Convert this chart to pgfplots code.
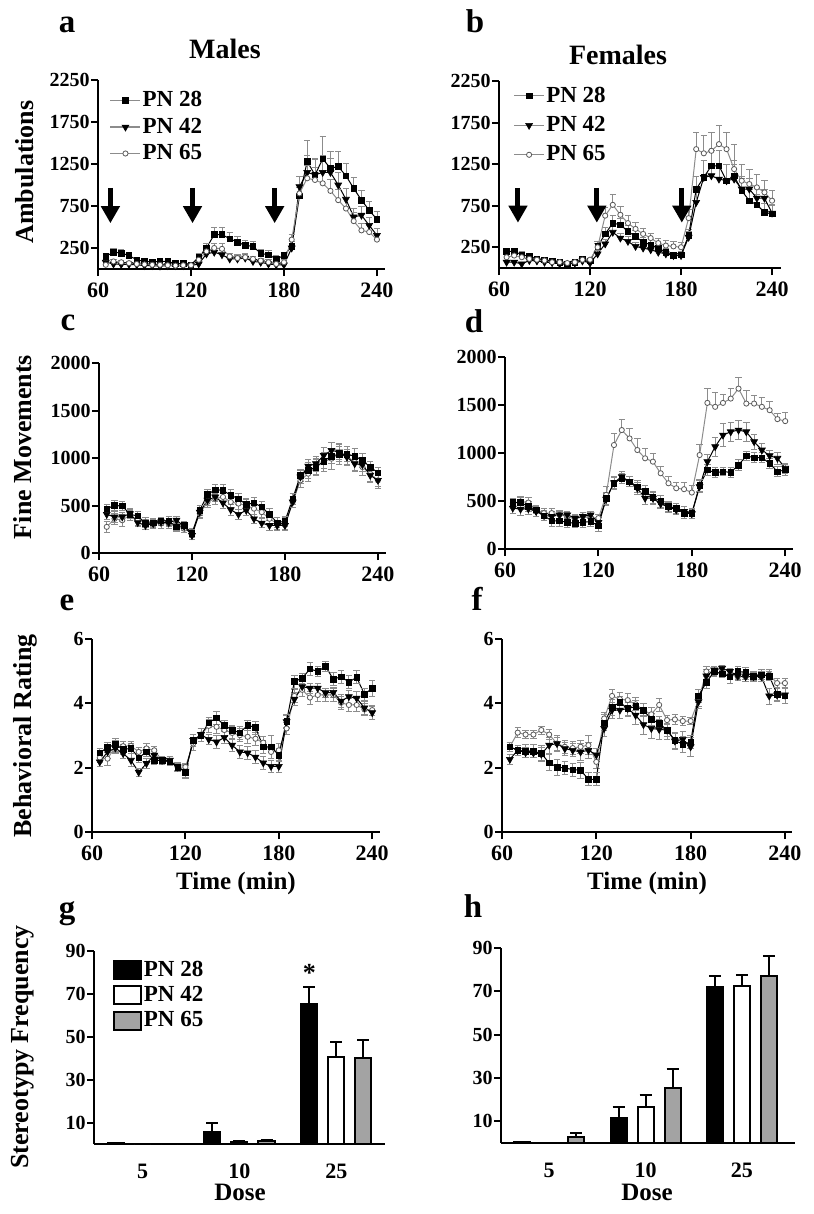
\documentclass[border=0pt]{standalone}
\usepackage{pgfplots}
\pgfplotsset{compat=1.18}
\usepackage{pgfplotstable}
\usepackage{fontspec}
\setmainfont{Liberation Serif}
\usetikzlibrary{arrows.meta}

\definecolor{errgray}{gray}{0.55}
\definecolor{lingray}{gray}{0.55}
\definecolor{bargray}{gray}{0.64}

% ---- time courses: mean and SEM per age group ----
\pgfplotstableread{
t a28 e28 a42 e42 a65 e65
65 150 40 80 30 50 20
70 200 40 60 20 90 20
75 190 40 55 20 80 20
80 160 30 55 20 70 20
85 110 30 50 20 60 20
90 90 30 40 20 55 20
95 85 30 40 20 50 20
100 90 30 35 20 50 20
105 90 30 40 20 45 20
110 65 20 40 20 40 20
115 65 20 40 20 45 20
120 50 20 40 20 45 20
125 140 40 60 30 110 30
130 250 60 180 40 210 50
135 410 80 200 50 250 60
140 410 90 170 50 240 60
145 360 80 120 40 150 40
150 320 70 120 40 130 40
155 280 60 130 40 140 40
160 270 60 90 30 120 30
165 185 50 80 30 100 30
170 170 50 60 30 80 30
175 120 40 50 30 60 20
180 160 40 50 30 80 30
185 270 60 250 60 350 60
190 870 100 980 120 900 100
195 1280 250 1150 200 1080 150
200 1120 200 1120 180 1060 150
205 1310 270 1150 200 1020 150
210 1200 200 1150 170 930 140
215 1220 180 1000 150 820 130
220 1110 150 830 130 720 120
225 960 130 620 100 570 100
230 820 110 640 100 460 80
235 700 100 520 90 440 80
240 590 90 400 80 350 70
}\tA

\pgfplotstableread{
t a28 e28 a42 e42 a65 e65
65 200 40 70 20 130 30
70 200 40 70 20 150 30
75 160 40 50 20 130 30
80 140 30 90 20 110 30
85 110 30 85 20 100 30
90 100 30 70 20 90 20
95 85 20 65 20 70 20
100 70 20 50 20 70 20
105 50 20 45 20 60 20
110 70 20 60 20 70 20
115 110 30 85 20 100 20
120 85 30 60 20 100 20
125 260 60 170 40 250 50
130 410 80 290 60 630 100
135 540 90 430 70 760 120
140 520 80 360 60 640 100
145 440 70 320 60 540 90
150 380 70 260 50 470 80
155 310 60 240 50 410 70
160 280 60 220 50 360 60
165 240 50 190 40 300 60
170 190 50 170 40 270 60
175 150 40 150 40 260 60
180 160 40 150 40 250 60
185 390 80 370 70 600 100
190 950 150 790 120 1430 200
195 1090 200 1090 200 1380 220
200 1230 180 1110 150 1410 220
205 1230 180 1070 150 1490 220
210 1050 200 1050 200 1430 200
215 1110 180 1070 180 1190 300
220 930 150 950 150 1050 200
225 810 130 950 130 1010 180
230 760 120 840 120 970 160
235 670 110 840 110 910 150
240 650 100 660 100 810 120
}\tB

\pgfplotstableread{
t a28 e28 a42 e42 a65 e65
65 467 40 407 50 275 60
70 500 50 380 60 360 60
75 495 50 380 50 345 60
80 407 40 415 50 400 60
85 390 50 320 40 345 50
90 310 40 290 40 326 50
95 320 40 310 40 310 50
100 337 40 326 40 310 50
105 337 50 320 40 310 50
110 275 40 345 40 275 50
115 290 40 280 40 255 40
120 205 40 185 40 220 40
125 450 50 430 50 415 50
130 615 50 555 50 537 60
135 667 50 590 50 572 60
140 660 60 527 60 590 60
145 607 60 456 60 537 60
150 572 60 407 50 520 60
155 510 60 450 50 500 60
160 527 60 360 50 467 60
165 485 60 315 50 430 60
170 405 60 290 50 360 60
175 320 50 290 50 310 60
180 335 50 290 50 310 60
185 572 60 537 60 537 60
190 818 60 800 70 765 70
195 870 80 915 70 835 80
200 905 80 940 80 905 90
205 968 80 1028 80 958 100
210 1020 80 1080 80 993 110
215 1040 80 1063 80 1045 110
220 1040 80 1010 80 1018 100
225 1020 80 940 80 958 90
230 975 70 930 70 905 90
235 905 60 818 70 835 80
240 845 60 765 60 765 80
}\tC

\pgfplotstableread{
t a28 e28 a42 e42 a65 e65
65 484 40 426 50 477 40
70 484 50 415 60 495 50
75 443 50 419 60 484 50
80 408 40 391 50 408 50
85 346 50 350 50 374 50
90 294 60 339 50 374 50
95 294 60 356 50 356 40
100 277 50 356 40 339 40
105 270 50 322 40 311 40
110 277 50 339 40 339 40
115 287 50 356 40 322 40
120 242 60 277 50 322 40
125 529 60 519 60 564 90
130 685 60 692 60 1083 120
135 737 50 754 50 1239 110
140 702 50 702 50 1152 100
145 650 60 633 60 1031 120
150 599 60 529 60 945 100
155 540 60 529 60 910 90
160 495 60 471 50 789 70
165 443 50 436 50 685 70
170 426 50 408 50 633 60
175 367 50 391 50 623 70
180 374 50 367 50 588 70
185 661 60 650 60 979 110
190 824 60 910 80 1522 150
195 796 50 1066 100 1481 150
200 806 40 1187 120 1522 90
205 799 50 1221 100 1567 110
210 875 60 1239 100 1671 120
215 969 50 1221 100 1515 140
220 952 50 1118 80 1515 80
225 952 50 1031 70 1481 100
230 893 50 972 60 1446 90
235 806 50 945 60 1353 60
240 824 60 841 50 1332 90
}\tD

\pgfplotstableread{
t a28 e28 a42 e42 a65 e65
65 2.46 0.15 2.18 0.15 2.31 0.15
70 2.63 0.15 2.49 0.2 2.28 0.2
75 2.72 0.2 2.61 0.15 2.65 0.2
80 2.57 0.15 2.44 0.15 2.67 0.15
85 2.60 0.15 2.23 0.2 2.68 0.15
90 2.31 0.15 1.86 0.12 2.49 0.15
95 2.49 0.15 2.13 0.15 2.60 0.15
100 2.23 0.12 2.39 0.12 2.54 0.12
105 2.23 0.12 2.23 0.12 2.23 0.12
110 2.18 0.12 2.23 0.12 2.18 0.12
115 2.02 0.15 2.02 0.15 2.02 0.12
120 1.86 0.2 1.89 0.2 2.02 0.12
125 2.85 0.2 2.85 0.2 2.75 0.2
130 3.01 0.2 3.03 0.2 3.03 0.2
135 3.40 0.15 2.88 0.15 3.30 0.2
140 3.55 0.2 2.80 0.2 3.27 0.2
145 3.32 0.15 2.94 0.2 3.17 0.2
150 3.17 0.15 2.70 0.2 3.08 0.2
155 3.09 0.2 2.49 0.2 3.01 0.2
160 3.32 0.15 2.46 0.2 2.96 0.2
165 3.25 0.2 2.33 0.2 2.90 0.2
170 2.65 0.2 2.15 0.2 2.78 0.2
175 2.65 0.35 2.04 0.2 2.49 0.2
180 2.39 0.2 2.04 0.2 2.54 0.2
185 3.45 0.2 3.43 0.2 3.22 0.2
190 4.68 0.2 4.13 0.2 4.23 0.2
195 4.78 0.15 4.52 0.15 4.42 0.2
200 5.07 0.2 4.47 0.15 4.18 0.2
205 4.99 0.15 4.47 0.15 4.26 0.2
210 5.15 0.15 4.33 0.15 4.26 0.2
215 4.75 0.2 4.34 0.15 4.26 0.2
220 4.83 0.2 4.07 0.2 4.02 0.2
225 4.66 0.2 4.21 0.2 3.95 0.2
230 4.81 0.2 4.16 0.2 3.95 0.2
235 4.28 0.2 3.86 0.2 3.81 0.2
240 4.47 0.25 3.71 0.2 3.79 0.15
}\tE

\pgfplotstableread{
t a28 e28 a42 e42 a65 e65
65 2.65 0.15 2.26 0.15 2.65 0.15
70 2.54 0.15 2.54 0.15 3.09 0.15
75 2.51 0.2 2.47 0.15 3.03 0.12
80 2.51 0.2 2.46 0.15 3.03 0.12
85 2.44 0.25 2.42 0.2 3.17 0.12
90 2.15 0.25 2.70 0.25 3.03 0.15
95 2.02 0.25 2.75 0.25 2.75 0.2
100 1.99 0.2 2.59 0.2 2.65 0.2
105 1.94 0.2 2.54 0.2 2.61 0.2
110 1.92 0.25 2.49 0.25 2.65 0.2
115 1.64 0.2 2.54 0.25 2.70 0.3
120 1.64 0.2 2.40 0.2 2.18 0.2
125 3.40 0.25 3.22 0.25 3.53 0.2
130 3.88 0.25 3.79 0.25 4.23 0.2
135 4.03 0.2 3.79 0.25 4.13 0.2
140 3.84 0.2 3.84 0.25 4.10 0.2
145 3.90 0.2 3.63 0.3 3.97 0.2
150 3.79 0.2 3.34 0.3 3.79 0.2
155 3.50 0.2 3.22 0.3 3.66 0.2
160 3.38 0.2 3.19 0.3 3.95 0.2
165 3.17 0.2 3.17 0.3 3.48 0.15
170 2.85 0.25 2.83 0.25 3.50 0.15
175 2.73 0.25 2.88 0.25 3.45 0.15
180 2.80 0.2 2.65 0.3 3.45 0.12
185 4.23 0.2 4.05 0.2 4.10 0.2
190 4.65 0.2 4.85 0.2 4.99 0.15
195 4.99 0.15 5.04 0.1 4.96 0.1
200 4.92 0.1 5.09 0.1 4.92 0.1
205 4.83 0.2 4.99 0.1 4.89 0.1
210 4.99 0.15 4.85 0.15 4.83 0.1
215 4.96 0.15 4.83 0.15 4.83 0.1
220 4.85 0.15 4.83 0.15 4.85 0.1
225 4.89 0.15 4.83 0.15 4.83 0.1
230 4.85 0.15 4.23 0.25 4.89 0.15
235 4.29 0.2 4.26 0.2 4.63 0.15
240 4.24 0.25 4.26 0.25 4.63 0.15
}\tF

% ---- stereotypy by dose (0 = 5, 1 = 10, 2 = 25) ----
\pgfplotstableread{
x p28 e28 p42 e42 p65 e65
0 0.5 0 0 0 0 0
1 5.5 4.2 1.0 0.4 1.3 0.4
2 65.5 7.5 40.5 7 40.3 8.4
}\tG

\pgfplotstableread{
x p28 e28 p42 e42 p65 e65
0 0.5 0 0 0 2.8 1.8
1 11.6 4.9 16.5 5.7 25.2 8.9
2 71.9 5.3 72.6 5.1 76.9 9.5
}\tH

\tikzset{arr/.style={line width=2.5pt, -{Triangle[width=9pt,length=8.5pt]}}}

\pgfplotsset{
  panel/.style={
    scale only axis,
    axis lines*=left,
    axis line style={-, line width=1pt},
    tick align=outside,
    major tick length=3.5pt,
    tick style={black, line width=1pt},
    xticklabel style={font=\bfseries\fontsize{11}{11}\selectfont},
    yticklabel style={font=\bfseries\fontsize{10}{10}\selectfont, inner sep=0.5pt},
    /pgf/number format/assume math mode=true,
    /pgf/number format/1000 sep={},
    scaled ticks=false,
    clip=false,
  },
  time/.style={panel, xmin=60, xtick={60,120,180,240}, ymin=0},
  eb/.style={
    /pgfplots/error bars/y dir=#1,
    /pgfplots/error bars/y explicit,
    /pgfplots/error bars/error bar style={errgray, line width=0.4pt},
    /pgfplots/error bars/error mark options={rotate=90, errgray, mark size=1.6pt, line width=0.4pt},
  },
  s28/.style={black, line width=0.5pt, mark=square*, mark size=1.4pt,
    mark options={black, line width=0.3pt}},
  s42/.style={black, line width=0.5pt, mark=triangle*, mark size=2pt,
    mark options={black, rotate=180, line width=0.3pt}},
  s65/.style={lingray, line width=0.5pt, mark=*, mark size=1.3pt,
    mark options={draw=black!65, fill=white, line width=0.4pt}},
  lineleg/.style={legend style={draw=none, fill=none, inner sep=0pt,
    font=\bfseries\fontsize{11.5}{12}\selectfont, nodes={inner sep=0.8pt}},
    legend cell align=left,
    legend image code/.code={
      \draw[lingray, line width=0.6pt] (0pt,0pt) -- (15pt,0pt);
      \draw[##1] plot coordinates {(7.5pt,0pt)};}},
  bars/.style={panel, ybar=5.5pt, bar width=8pt, xmin=-0.5, xmax=2.5, ymin=0, ymax=90,
    xtick={0,1,2}, xticklabels={5,10,25}, xtick style={draw=none},
    xticklabel style={yshift=-3pt},
    ytick={10,30,50,70,90}},
  beb/.style={
    /pgfplots/error bars/y dir=plus,
    /pgfplots/error bars/y explicit,
    /pgfplots/error bars/error bar style={black, line width=1pt},
    /pgfplots/error bars/error mark options={rotate=90, black, mark size=3pt, line width=1pt},
  },
}

\begin{document}
\begin{tikzpicture}
\path[use as bounding box] (0pt,0pt) rectangle (406.5pt,-607pt);

% a
\begin{axis}[time, at={(49pt,-134.5pt)}, anchor=south west,
  width=143.5pt, height=94.5pt, xmax=245.2, ymax=2250,
  ytick={250,750,1250,1750,2250},
  lineleg, legend style={at={(0.04,0.95)}, anchor=north west, row sep=2.5pt}]
\addplot[s28, eb=plus] table[x=t, y=a28, y error=e28] {\tA};
\addplot[s42, eb=plus] table[x=t, y=a42, y error=e42] {\tA};
\addplot[s65, eb=plus] table[x=t, y=a65, y error=e65] {\tA};
\legend{PN 28, PN 42, PN 65}
\draw[arr] (axis cs:68,965) -- (axis cs:68,545);
\draw[arr] (axis cs:121,965) -- (axis cs:121,545);
\draw[arr] (axis cs:174,965) -- (axis cs:174,545);
\end{axis}

% b
\begin{axis}[time, at={(249.5pt,-134pt)}, anchor=south west,
  width=141pt, height=93.5pt, xmax=245.9, ymax=2250,
  ytick={250,750,1250,1750,2250},
  lineleg, legend style={at={(0.05,0.98)}, anchor=north west, row sep=4pt}]
\addplot[s28, eb=plus] table[x=t, y=a28, y error=e28] {\tB};
\addplot[s42, eb=plus] table[x=t, y=a42, y error=e42] {\tB};
\addplot[s65, eb=plus] table[x=t, y=a65, y error=e65] {\tB};
\legend{PN 28, PN 42, PN 65}
\draw[arr] (axis cs:72.5,965) -- (axis cs:72.5,545);
\draw[arr] (axis cs:124.5,965) -- (axis cs:124.5,545);
\draw[arr] (axis cs:180.5,965) -- (axis cs:180.5,545);
\end{axis}

% c
\begin{axis}[time, at={(49.5pt,-276.5pt)}, anchor=south west,
  width=143.5pt, height=95pt, xmax=245.2, ymax=2000,
  ytick={0,500,1000,1500,2000}]
\addplot[s65, eb=both] table[x=t, y=a65, y error=e65] {\tC};
\addplot[s42, eb=both] table[x=t, y=a42, y error=e42] {\tC};
\addplot[s28, eb=both] table[x=t, y=a28, y error=e28] {\tC};
\end{axis}

% d
\begin{axis}[time, at={(252.5pt,-274.5pt)}, anchor=south west,
  width=144pt, height=96pt, xmax=245, ymax=2000,
  ytick={0,500,1000,1500,2000}]
\addplot[s65, eb=plus] table[x=t, y=a65, y error=e65] {\tD};
\addplot[s42, eb=both] table[x=t, y=a42, y error=e42] {\tD};
\addplot[s28, eb=both] table[x=t, y=a28, y error=e28] {\tD};
\end{axis}

% e
\begin{axis}[time, at={(46pt,-416pt)}, anchor=south west,
  width=144pt, height=96.5pt, xmax=245, ymax=6,
  ytick={0,2,4,6}]
\addplot[s65, eb=both] table[x=t, y=a65, y error=e65] {\tE};
\addplot[s42, eb=both] table[x=t, y=a42, y error=e42] {\tE};
\addplot[s28, eb=both] table[x=t, y=a28, y error=e28] {\tE};
\end{axis}

% f
\begin{axis}[time, at={(251pt,-416pt)}, anchor=south west,
  width=145pt, height=96.5pt, xmax=244.5, ymax=6,
  ytick={0,2,4,6}]
\addplot[s65, eb=both] table[x=t, y=a65, y error=e65] {\tF};
\addplot[s42, eb=both] table[x=t, y=a42, y error=e42] {\tF};
\addplot[s28, eb=both] table[x=t, y=a28, y error=e28] {\tF};
\end{axis}

% g
\begin{axis}[bars, at={(47pt,-572pt)}, anchor=south west,
  width=145.5pt, height=96.5pt,
  legend image code/.code={\draw[#1, line width=1pt] (0pt,-4.5pt) rectangle (13.5pt,4.5pt);},
  legend style={at={(0.065,0.96)}, anchor=north west, draw=none, fill=none,
    inner sep=0pt, row sep=2pt, font=\bfseries\fontsize{11.5}{12}\selectfont,
    nodes={inner sep=0.8pt}},
  legend cell align=left]
\addplot[fill=black, draw=black, line width=1pt, beb] table[x=x, y=p28, y error=e28] {\tG};
\addplot[fill=white, draw=black, line width=1pt, beb] table[x=x, y=p42, y error=e42] {\tG};
\addplot[fill=bargray, draw=black, line width=1pt, beb] table[x=x, y=p65, y error=e65] {\tG};
\legend{PN 28, PN 42, PN 65}
\node[font=\bfseries\fontsize{13}{13}\selectfont] at (axis cs:1.72,80) {*};
\end{axis}

% h
\begin{axis}[bars, at={(250.5pt,-571.5pt)}, anchor=south west,
  width=147pt, height=97.5pt, xmax=2.55]
\addplot[fill=black, draw=black, line width=1pt, beb] table[x=x, y=p28, y error=e28] {\tH};
\addplot[fill=white, draw=black, line width=1pt, beb] table[x=x, y=p42, y error=e42] {\tH};
\addplot[fill=bargray, draw=black, line width=1pt, beb] table[x=x, y=p65, y error=e65] {\tH};
\end{axis}

% panel letters, titles and axis labels
\begin{scope}[every node/.style={font=\bfseries\fontsize{16.5}{16.5}\selectfont, anchor=base}]
\node at (33.5pt,-16.5pt) {a};
\node at (237.5pt,-16.5pt) {b};
\node at (34pt,-165pt) {c};
\node at (237pt,-166pt) {d};
\node at (33.5pt,-305pt) {e};
\node at (238.5pt,-305pt) {f};
\node at (33.5pt,-459pt) {g};
\node at (236.5pt,-458.5pt) {h};
\end{scope}
\begin{scope}[every node/.style={font=\bfseries\fontsize{14}{14}\selectfont, anchor=base}]
\node at (112.5pt,-29.5pt) {Males};
\node at (309pt,-32.5pt) {Females};
\end{scope}
\begin{scope}[every node/.style={font=\bfseries\fontsize{13}{13}\selectfont, rotate=90, anchor=center}]
\node at (12.5pt,-86pt) {Ambulations};
\node at (11.5pt,-223.5pt) {Fine Movements};
\node at (12.5pt,-368pt) {Behavioral Rating};
\node at (11.5pt,-523.5pt) {Stereotypy Frequency};
\end{scope}
\begin{scope}[every node/.style={font=\bfseries\fontsize{12.5}{12.5}\selectfont, anchor=center}]
\node at (118pt,-441.5pt) {Time (min)};
\node at (323.5pt,-441.5pt) {Time (min)};
\node at (120pt,-596pt) {Dose};
\node at (323.5pt,-596pt) {Dose};
\end{scope}
\end{tikzpicture}
\end{document}
